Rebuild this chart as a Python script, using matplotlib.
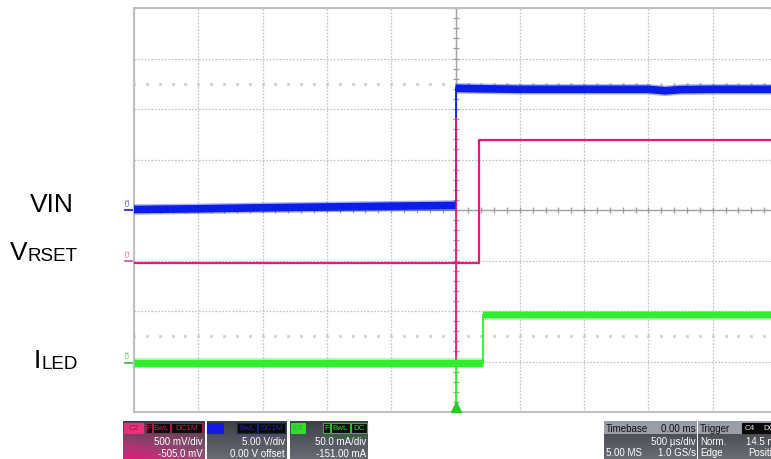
import numpy as np
import matplotlib.pyplot as plt
from matplotlib.patches import Rectangle

plt.rcParams['font.family'] = ['Liberation Sans', 'DejaVu Sans']

# --- scope settings ---
t_per_div = 0.5                       # ms/div (500 us/div), trigger at centre
vin_scale, vin_offset = 5.0, 0.0      # C3: V/div, V
vrset_scale, vrset_offset = 0.5, -0.505   # C2: V/div, V
iled_scale, iled_offset = 50.0, -151.0    # C4: mA/div, mA

# --- traces (time in ms) ---
# VIN (C3), V
vin_t_pre = [-2.5, -2.0, -1.5, -1.0, -0.5, 0.0]
vin_pre = [0.05, 0.12, 0.22, 0.30, 0.38, 0.45]
vin_t_post = [0.0, 0.2, 0.5, 1.0, 1.5, 1.63, 1.75, 2.0, 2.5]
vin_post = [12.05, 12.0, 11.95, 11.95, 11.95, 11.8, 11.92, 11.95, 11.95]

# VRSET (C2), V
vrset_t = [-2.5, 0.18, 0.18, 2.5]
vrset_v = [-0.02, -0.02, 1.2, 1.2]

# ILED (C4), mA
iled_t_pre = [-2.5, 0.21]
iled_pre = [0.0, 0.0]
iled_t_post = [0.21, 2.5]
iled_post = [47.0, 47.0]

# --- info boxes ---
ch_names = ['C2', 'C3', 'C4']
ch_flags = [['F', 'BwL', 'DC1M'], ['', 'BwL', 'DC1M'], ['F', 'BwL', 'DC']]
ch_vdiv = ['500 mV/div', '5.00 V/div', '50.0 mA/div']
ch_offs = ['-505.0 mV', '0.00 V offset', '-151.00 mA']
tb_rows = [('Timebase', '0.00 ms'), ('', '500 µs/div'), ('5.00 MS', '1.0 GS/s')]
trig_rows = [('Trigger', ''), ('Norm.', '14.5 mA'), ('Edge', 'Positive')]

BLUE = '#0a1ee8'
MAG = '#e01e78'
GREEN = '#2eee2e'


def vin_div(v):
    return (np.asarray(v) + vin_offset) / vin_scale


def vrset_div(v):
    return (np.asarray(v) + vrset_offset) / vrset_scale


def iled_div(i):
    return (np.asarray(i) + iled_offset) / iled_scale


def band(ax, t, y, col, lw):
    # noisy trace: soft halo under a solid core
    ax.plot(t, y, color=col, lw=lw + 2.0, alpha=0.35,
            solid_capstyle='butt', zorder=4)
    ax.plot(t, y, color=col, lw=lw, solid_capstyle='butt', zorder=4)


fig = plt.figure(figsize=(7.71, 4.59), dpi=100)
W, H = 771, 459

# overlay in pixel units for labels and status boxes
ov = fig.add_axes([0, 0, 1, 1], zorder=0)
ov.set_xlim(0, W)
ov.set_ylim(H, 0)
ov.axis('off')

# graticule: 10 x 8 divisions
ax = fig.add_axes([134 / W, (H - 412) / H, 643 / W, 404 / H], zorder=1)
ax.set_xlim(-5 * t_per_div, 5 * t_per_div)
ax.set_ylim(-4, 4)
ax.set_xticks(np.arange(-5, 6) * t_per_div)
ax.set_yticks(np.arange(-4, 5))
ax.tick_params(length=0, labelbottom=False, labelleft=False)
ax.grid(True, color='#c6c6c6', lw=0.9, ls=(0, (1.5, 1.2)))
for s in ['left', 'top', 'bottom', 'right']:
    ax.spines[s].set_color('#c0c0c0')
    ax.spines[s].set_linewidth(1.5)

# centre cross with minor ticks
ax.axhline(0, color='#a4a4a4', lw=1.0)
ax.axvline(0, color='#a4a4a4', lw=1.0)
minor_t = np.arange(-25, 26) * t_per_div / 5
minor_y = np.arange(-20, 21) / 5
ax.plot(minor_t, np.zeros_like(minor_t), ls='none', marker='|', ms=4,
        mew=0.9, color='#9c9c9c')
ax.plot(np.zeros_like(minor_y), minor_y, ls='none', marker='_', ms=4,
        mew=0.9, color='#9c9c9c')
for yy in (2.5, -2.5):
    ax.plot(minor_t, np.full_like(minor_t, yy), ls='none', marker='s',
            ms=1.2, color='#d2d2d2')

# C3 - VIN
ax.plot([0, 0], [vin_div(vin_pre[-1]), vin_div(vin_post[0])], color=BLUE,
        lw=1.3, zorder=3)
band(ax, vin_t_pre, vin_div(vin_pre), BLUE, 5.5)
band(ax, vin_t_post, vin_div(vin_post), BLUE, 5.5)

# trigger line below the step
ax.plot([0, 0], [1.8, iled_div(iled_pre[-1])], color=MAG, lw=1.3, zorder=3)
ax.plot([0, 0], [iled_div(iled_pre[-1]), -4], color=GREEN, lw=1.3, zorder=3)

# C2 - VRSET
ax.plot(vrset_t, vrset_div(vrset_v), color=MAG, lw=1.6, zorder=5)

# C4 - ILED
ax.plot([iled_t_pre[-1]] * 2, [iled_div(iled_pre[-1]), iled_div(iled_post[0])],
        color=GREEN, lw=1.3, zorder=3)
band(ax, iled_t_pre, iled_div(iled_pre), GREEN, 5.2)
band(ax, iled_t_post, iled_div(iled_post), GREEN, 4.6)

# trigger marker
ax.plot([0], [-3.9], marker='^', ms=7, color='#22cc22', clip_on=False, zorder=6)

# channel ground markers
for name, lvl, col in [('C3', vin_div(0), '#2030c0'),
                       ('C2', vrset_div(0), '#d0609a'),
                       ('C4', iled_div(0), '#40c040')]:
    ax.plot([-2.57, -2.5], [lvl, lvl], color=col, lw=1.3, clip_on=False)
    ax.text(-2.546, lvl + 0.08, name, rotation=90, ha='center', va='bottom',
            fontsize=4.5, color=col, clip_on=False)

# signal names on the left
for big, small, x0, yb in [('V', 'IN', 30, 212), ('V', 'RSET', 10, 260),
                           ('I', 'LED', 34, 368)]:
    if small == 'IN':
        ov.text(x0, yb, big + small, fontsize=19, ha='left', va='baseline')
        continue
    tb = ov.text(x0, yb, big, fontsize=19, ha='left', va='baseline')
    ov.annotate(small, xy=(1, 0), xycoords=tb, fontsize=13.5,
                ha='left', va='bottom')


# status boxes along the bottom
def panel_bg(x0, x1, y0, y1, tint=None):
    h, w = 40, 80
    yy, xx = np.mgrid[0:1:h * 1j, 0:1:w * 1j]
    top = np.array([0.25, 0.25, 0.28])
    bot = np.array([0.42, 0.43, 0.46])
    img = top + (bot - top) * yy[..., None]
    if tint is not None:
        wgt = np.clip(yy ** 1.2 * (1.2 - 0.8 * xx), 0, 1)[..., None]
        img = img * (1 - wgt) + np.array(tint) * wgt
    ov.imshow(img, extent=(x0, x1, y1, y0), aspect='auto', zorder=1,
              interpolation='bilinear')


def flag_box(x0, x1, y0, y1, fc, ec, txt, tc):
    ov.add_patch(Rectangle((x0, y0), x1 - x0, y1 - y0, fc=fc, ec=ec, lw=0.8,
                           zorder=2))
    if txt:
        ov.text((x0 + x1) / 2, (y0 + y1) / 2 + 0.5, txt, fontsize=5.8,
                color=tc, ha='center', va='center', zorder=3)


panel_x = [(123, 205), (207, 287), (290, 368)]
main_box = [(124, 143), (207, 223), (291, 305)]
flag_x = [[(146, 152), (153, 170), (171, 202)],
          [None, (237, 257), (258, 285)],
          [(323, 330), (331, 350), (351, 367)]]
box_fc = ['#e8307a', '#1418e0', '#30dd30']
box_tc = ['#a01040', '#1418e0', '#20b020']
flag_ec = ['#b01850', '#1a1a90', '#28c028']
flag_tc = ['#c02050', '#2020a8', '#30d030']
tints = [(0.85, 0.12, 0.48), None, None]

for k in range(3):
    x0, x1 = panel_x[k]
    panel_bg(x0, x1, 421, 461, tints[k])
    flag_box(main_box[k][0], main_box[k][1], 423, 433, box_fc[k], box_fc[k],
             ch_names[k], box_tc[k])
    for fx, ft in zip(flag_x[k], ch_flags[k]):
        if fx is None:
            continue
        flag_box(fx[0], fx[1], 423, 433, '#0a0a0a', flag_ec[k], ft, flag_tc[k])
    ov.text(x1 - 2, 445, ch_vdiv[k], fontsize=7, color='white', ha='right',
            va='baseline', zorder=3)
    ov.text(x1 - 2, 457, ch_offs[k], fontsize=7, color='white', ha='right',
            va='baseline', zorder=3)

# timebase / trigger boxes
for (x0, x1), rows, right in [((604, 697), tb_rows, 696),
                              ((698, 790), trig_rows, 782)]:
    panel_bg(x0, x1, 421, 461)
    ov.add_patch(Rectangle((x0, 421), x1 - x0, 13, fc='#9a9ea6', ec='none',
                           zorder=1.5))
    for r, (lt, rt) in enumerate(rows):
        yb = [432, 445, 456][r]
        col = '#111111' if r == 0 else 'white'
        if lt:
            ov.text(x0 + 2, yb, lt, fontsize=7, color=col, ha='left',
                    va='baseline', zorder=3)
        if rt:
            ov.text(right, yb, rt, fontsize=7, color=col, ha='right',
                    va='baseline', zorder=3)

flag_box(742, 758, 423, 433, '#0a0a0a', '#0a0a0a', 'C4', '#e0e0e0')
flag_box(759, 780, 423, 433, '#0a0a0a', '#0a0a0a', 'DC', '#e0e0e0')

fig.savefig('out.png', dpi=100)
